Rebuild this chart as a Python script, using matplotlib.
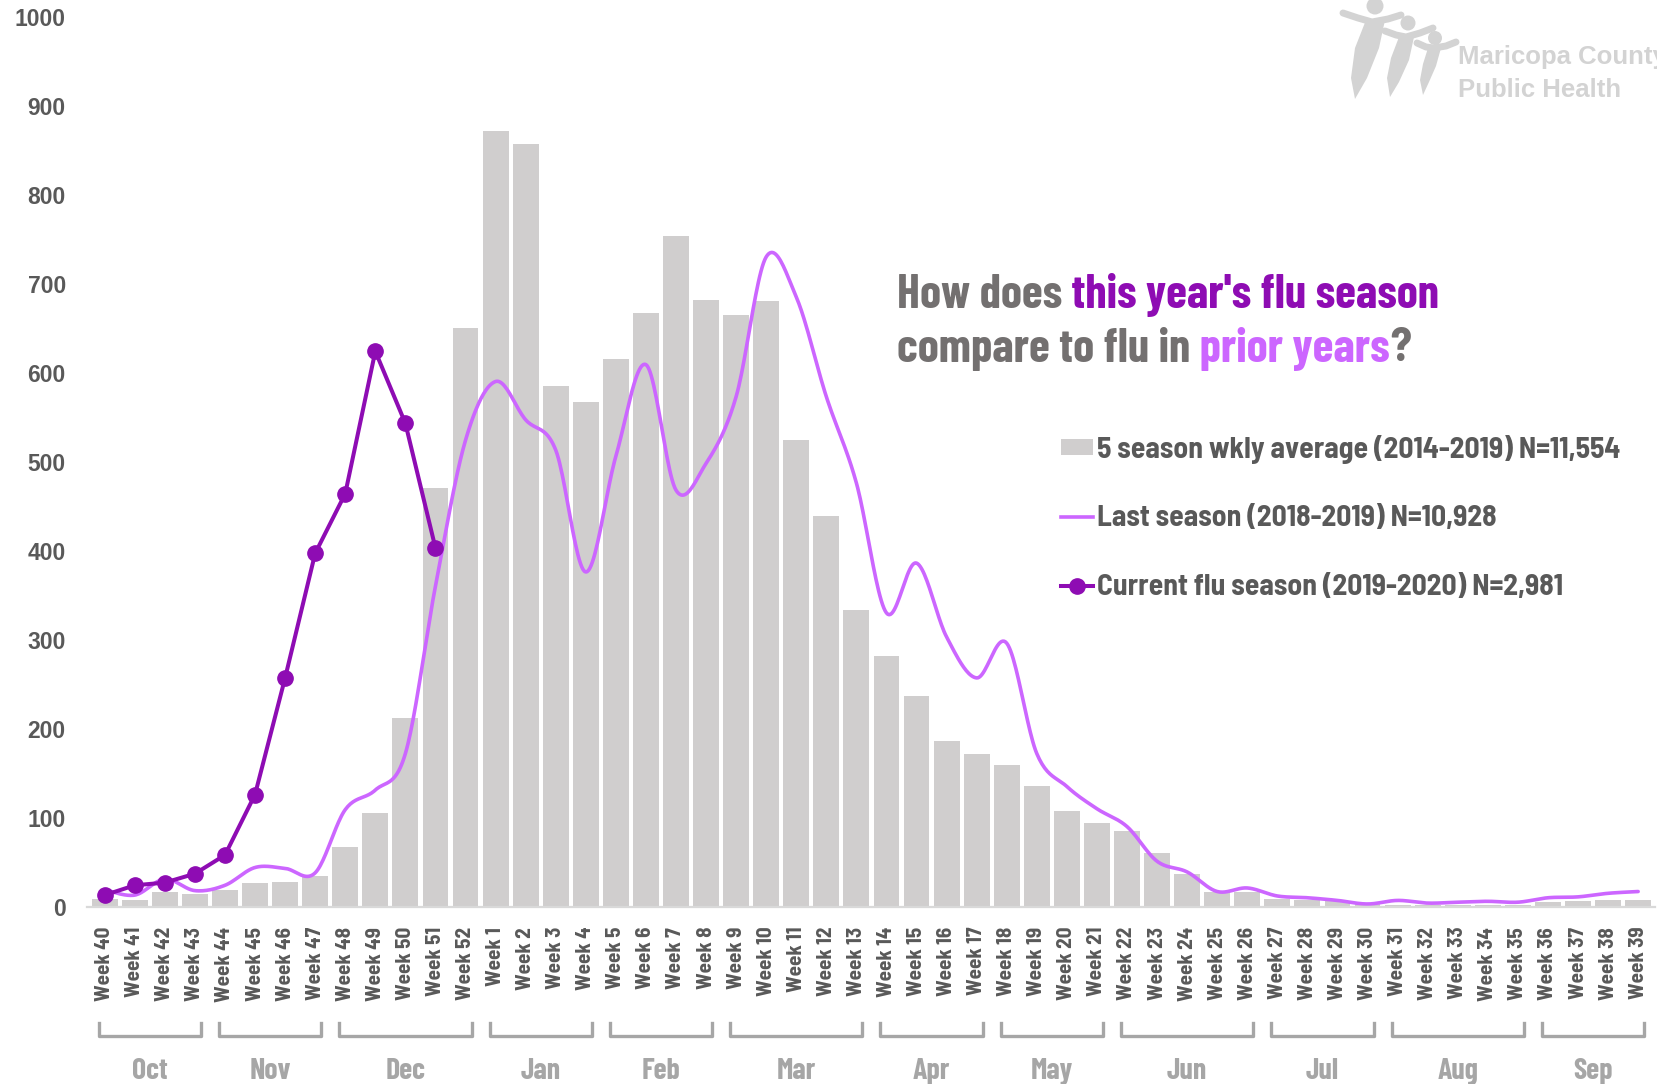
import numpy as np
import matplotlib
matplotlib.use("Agg")
import matplotlib.pyplot as plt
import matplotlib.transforms as mtransforms
from matplotlib.patches import Patch, Circle, Polygon
from matplotlib.lines import Line2D


WEEKS = list(range(40, 53)) + list(range(1, 40))
WEEK_LABELS = [f"Week {w}" for w in WEEKS]

# 5 season weekly average (2014-2019), weeks 40..52, 1..39
AVG_5SEASON = [
    9, 8, 16, 14, 19, 27, 28, 34, 67, 105, 212, 470, 650,
    872, 857, 585, 567, 615, 667, 754, 682, 665, 680, 524, 439, 333,
    282, 237, 186, 171, 159, 135, 107, 94, 85, 60, 37, 17, 17,
    9, 8, 6, 3, 2, 2, 2, 2, 2, 5, 6, 7, 7,
]

# last season (2018-2019)
LAST_SEASON = [
    19, 13, 31, 18, 24, 44, 43, 38, 109, 131, 172, 360, 524,
    590, 547, 513, 376, 506, 609, 468, 498, 573, 730, 685, 573, 476,
    330, 386, 303, 257, 296, 172, 135, 110, 90, 51, 39, 17, 21,
    12, 10, 7, 3, 7, 4, 5, 6, 5, 10, 11, 15, 17,
]

# current season (2019-2020), weeks 40..51
CURRENT_SEASON = [13, 24, 27, 37, 58, 126, 257, 397, 464, 624, 543, 403]

MONTHS = ["Oct", "Nov", "Dec", "Jan", "Feb", "Mar",
          "Apr", "May", "Jun", "Jul", "Aug", "Sep"]
MONTH_FIRST_WEEK = [40, 44, 48, 1, 5, 9, 14, 18, 22, 27, 31, 36]
MONTH_LAST_WEEK = [43, 47, 52, 4, 8, 13, 17, 21, 26, 30, 35, 39]

LEGEND_LABELS = [
    "5 season wkly average (2014-2019) N=11,554",
    "Last season (2018-2019) N=10,928",
    "Current flu season (2019-2020) N=2,981",
]

BAR_COLOR = "#d0cece"
LIGHT_PURPLE = "#cc66ff"
DARK_PURPLE = "#8e0cb3"
TEXT_GRAY = "#595959"
TITLE_GRAY = "#737070"
MONTH_GRAY = "#a6a6a6"
LOGO_GRAY = "#d3d3d3"

COND = ["Barlow Condensed", "DejaVu Sans"]
SEMI = ["Barlow Semi Condensed", "DejaVu Sans"]
SANS = ["Liberation Sans", "DejaVu Sans"]


def smooth_curve(x, y, steps=24):
    # Excel-style smoothed line: cubic Bezier segments with Catmull-Rom handles
    x = np.asarray(x, float)
    y = np.asarray(y, float)
    px = np.concatenate([[x[0]], x, [x[-1]]])
    py = np.concatenate([[y[0]], y, [y[-1]]])
    t = np.linspace(0, 1, steps)[:, None]
    xs, ys = [], []
    for i in range(1, len(px) - 2):
        p0 = np.array([px[i - 1], py[i - 1]])
        p1 = np.array([px[i], py[i]])
        p2 = np.array([px[i + 1], py[i + 1]])
        p3 = np.array([px[i + 2], py[i + 2]])
        c1 = p1 + (p2 - p0) / 6.0
        c2 = p2 - (p3 - p1) / 6.0
        seg = ((1 - t) ** 3) * p1 + 3 * ((1 - t) ** 2) * t * c1 \
            + 3 * (1 - t) * t ** 2 * c2 + t ** 3 * p2
        xs.append(seg[:, 0])
        ys.append(seg[:, 1])
    return np.concatenate(xs), np.concatenate(ys)


def draw_person(ax, head, r, arm, body):
    ax.add_patch(Circle(head, r, color=LOGO_GRAY, lw=0))
    ax.plot(arm[0], arm[1], color=LOGO_GRAY, lw=5, solid_capstyle="round")
    ax.add_patch(Polygon(body, closed=True, color=LOGO_GRAY, lw=0))


fig = plt.figure(figsize=(16.57, 10.84), dpi=100)
ax = fig.add_axes([0.0523, 0.1636, 0.9463, 0.8211])

x = np.arange(len(WEEKS))
ax.bar(x, AVG_5SEASON, width=0.86, color=BAR_COLOR, zorder=1)

sx, sy = smooth_curve(x, LAST_SEASON)
ax.plot(sx, sy, color=LIGHT_PURPLE, lw=2.6, zorder=2, solid_capstyle="round")

ax.plot(x[:len(CURRENT_SEASON)], CURRENT_SEASON, color=DARK_PURPLE, lw=2.9,
        marker="o", ms=11, zorder=3)

ax.set_xlim(-0.6, len(WEEKS) - 0.45)
ax.set_ylim(0, 1000)
ax.set_yticks(range(0, 1001, 100))
ax.set_xticks(x)
ax.set_xticklabels(WEEK_LABELS, rotation=90, fontfamily=SEMI,
                   fontweight="bold", fontstretch="condensed", fontsize=15.3,
                   color=TEXT_GRAY)
for lab in ax.get_yticklabels():
    lab.set_fontfamily(SANS)
    lab.set_fontweight("bold")
    lab.set_fontsize(16.5)
    lab.set_color(TEXT_GRAY)
ax.tick_params(axis="x", length=0, pad=14.5)
ax.tick_params(axis="y", length=0, pad=15)
for side in ["top", "right", "left"]:
    ax.spines[side].set_visible(False)
ax.spines["bottom"].set_color("#d9d9d9")
ax.spines["bottom"].set_linewidth(1.6)

# month brackets under the week labels
trans = mtransforms.blended_transform_factory(ax.transData, ax.transAxes)
for name, w0, w1 in zip(MONTHS, MONTH_FIRST_WEEK, MONTH_LAST_WEEK):
    i0 = WEEKS.index(w0) - 0.2
    i1 = WEEKS.index(w1) + 0.2
    ax.plot([i0, i0, i1, i1], [-0.131, -0.145, -0.145, -0.131],
            transform=trans, clip_on=False, color=MONTH_GRAY, lw=2.4,
            solid_joinstyle="round")
    ax.text((i0 + i1) / 2, -0.185, name, transform=trans, ha="center",
            va="center", fontfamily=COND, fontweight="bold",
            fontstretch="condensed", fontsize=21.5, color=MONTH_GRAY)

# legend
handles = [
    Patch(facecolor=BAR_COLOR, edgecolor="none"),
    Line2D([], [], color=LIGHT_PURPLE, lw=2.6),
    Line2D([], [], color=DARK_PURPLE, lw=2.9, marker="o", ms=11),
]
fig.legend(handles, LEGEND_LABELS, loc="upper left",
           bbox_to_anchor=(0.6405, 0.599), frameon=False,
           prop={"family": SEMI, "weight": "bold", "stretch": "condensed",
                 "size": 21.3},
           labelcolor=TEXT_GRAY, handlelength=1.08, handleheight=0.45,
           handletextpad=0.13, labelspacing=1.41, borderpad=0,
           borderaxespad=0)

# two-colour title
title_kw = dict(fontfamily=COND, fontweight="bold", fontstretch="condensed",
                fontsize=34.3, va="center")
t1 = fig.text(0.5413, 0.7275, "How does", color=TITLE_GRAY, **title_kw)
t2 = ax.annotate(" this year's flu season", xy=(1, 0.5), xycoords=t1,
                 color=DARK_PURPLE, **title_kw)
t3 = fig.text(0.5413, 0.6785, "compare to flu in", color=TITLE_GRAY, **title_kw)
t4 = ax.annotate(" prior years", xy=(1, 0.5), xycoords=t3,
                 color=LIGHT_PURPLE, **title_kw)
ax.annotate("?", xy=(1, 0.5), xycoords=t4, color=TITLE_GRAY, **title_kw)

# logo, top right
deco = fig.add_axes([0, 0, 1, 1])
deco.set_xlim(0, 1657)
deco.set_ylim(1084, 0)
deco.axis("off")
draw_person(deco, (1375, 6), 8.5,
            ([1343, 1358, 1372, 1388, 1401], [13, 18, 22, 19, 15]),
            [(1366, 20), (1385, 20), (1379, 48), (1367, 78), (1355, 99),
             (1351, 78), (1355, 48)])
draw_person(deco, (1408, 23), 7.5,
            ([1385, 1396, 1406, 1420, 1433], [31, 35, 37, 33, 28]),
            [(1399, 37), (1414, 37), (1409, 60), (1399, 82), (1390, 97),
             (1387, 78), (1391, 58)])
draw_person(deco, (1435, 38), 7,
            ([1417, 1426, 1434, 1446, 1456], [43, 47, 48, 46, 42]),
            [(1428, 48), (1441, 48), (1436, 66), (1429, 82), (1423, 95),
             (1420, 80), (1423, 64)])
fig.text(1458 / 1657, 1 - 57 / 1084, "Maricopa County", fontfamily=SANS,
         fontweight="bold", fontsize=18.5, color=LOGO_GRAY, va="center")
fig.text(1458 / 1657, 1 - 90 / 1084, "Public Health", fontfamily=SANS,
         fontweight="bold", fontsize=18.5, color=LOGO_GRAY, va="center")

fig.savefig("out.png", dpi=100, facecolor="white")
